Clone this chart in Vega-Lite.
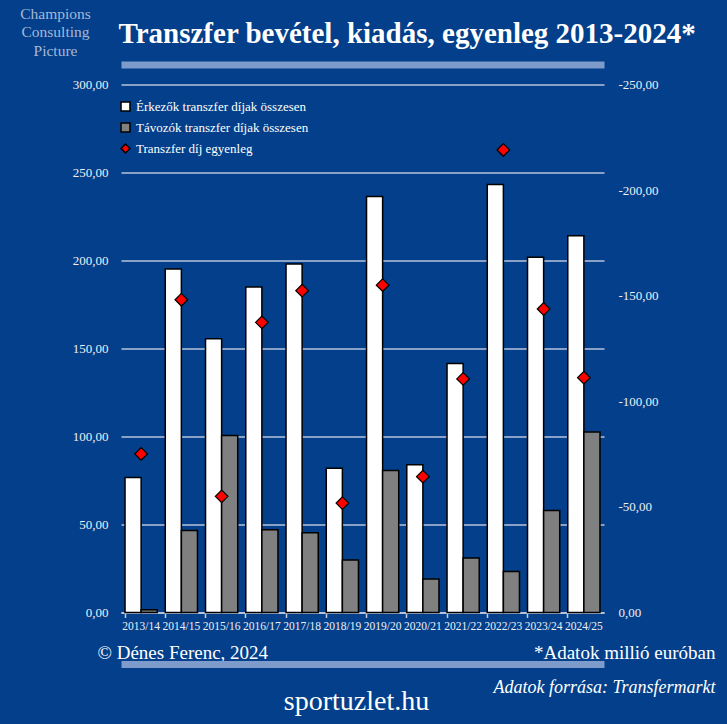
{
  "$schema": "https://vega.github.io/schema/vega-lite/v6.json",
  "width": 483,
  "height": 528,
  "autosize": {"type": "none"},
  "padding": {"left": 121, "top": 84.5, "right": 123, "bottom": 111.5},
  "background": "#033f8a",
  "config": {
    "view": {"stroke": null},
    "font": "Liberation Serif",
    "axis": {"labelFont": "Liberation Serif", "titleFont": "Liberation Serif"},
    "legend": {"labelFont": "Liberation Serif"}
  },
  "data": {
    "values": [
      {"season": "2013/14", "series": "Érkezők transzfer díjak összesen", "value": 76.7},
      {"season": "2014/15", "series": "Érkezők transzfer díjak összesen", "value": 195.1},
      {"season": "2015/16", "series": "Érkezők transzfer díjak összesen", "value": 155.5},
      {"season": "2016/17", "series": "Érkezők transzfer díjak összesen", "value": 184.9},
      {"season": "2017/18", "series": "Érkezők transzfer díjak összesen", "value": 198.0},
      {"season": "2018/19", "series": "Érkezők transzfer díjak összesen", "value": 82.0},
      {"season": "2019/20", "series": "Érkezők transzfer díjak összesen", "value": 236.4},
      {"season": "2020/21", "series": "Érkezők transzfer díjak összesen", "value": 83.9},
      {"season": "2021/22", "series": "Érkezők transzfer díjak összesen", "value": 141.5},
      {"season": "2022/23", "series": "Érkezők transzfer díjak összesen", "value": 243.2},
      {"season": "2023/24", "series": "Érkezők transzfer díjak összesen", "value": 201.9},
      {"season": "2024/25", "series": "Érkezők transzfer díjak összesen", "value": 214.0},
      {"season": "2013/14", "series": "Távozók transzfer díjak összesen", "value": 1.5},
      {"season": "2014/15", "series": "Távozók transzfer díjak összesen", "value": 46.6},
      {"season": "2015/16", "series": "Távozók transzfer díjak összesen", "value": 100.6},
      {"season": "2016/17", "series": "Távozók transzfer díjak összesen", "value": 47.0},
      {"season": "2017/18", "series": "Távozók transzfer díjak összesen", "value": 45.3},
      {"season": "2018/19", "series": "Távozók transzfer díjak összesen", "value": 29.9},
      {"season": "2019/20", "series": "Távozók transzfer díjak összesen", "value": 80.7},
      {"season": "2020/21", "series": "Távozók transzfer díjak összesen", "value": 19.0},
      {"season": "2021/22", "series": "Távozók transzfer díjak összesen", "value": 30.9},
      {"season": "2022/23", "series": "Távozók transzfer díjak összesen", "value": 23.3},
      {"season": "2023/24", "series": "Távozók transzfer díjak összesen", "value": 58.0},
      {"season": "2024/25", "series": "Távozók transzfer díjak összesen", "value": 102.5},
      {"season": "2013/14", "series": "Transzfer díj egyenleg", "value": -75.1},
      {"season": "2014/15", "series": "Transzfer díj egyenleg", "value": -148.1},
      {"season": "2015/16", "series": "Transzfer díj egyenleg", "value": -55.0},
      {"season": "2016/17", "series": "Transzfer díj egyenleg", "value": -137.4},
      {"season": "2017/18", "series": "Transzfer díj egyenleg", "value": -152.4},
      {"season": "2018/19", "series": "Transzfer díj egyenleg", "value": -51.8},
      {"season": "2019/20", "series": "Transzfer díj egyenleg", "value": -155.0},
      {"season": "2020/21", "series": "Transzfer díj egyenleg", "value": -64.3},
      {"season": "2021/22", "series": "Transzfer díj egyenleg", "value": -110.6},
      {"season": "2022/23", "series": "Transzfer díj egyenleg", "value": -219.0},
      {"season": "2023/24", "series": "Transzfer díj egyenleg", "value": -143.7},
      {"season": "2024/25", "series": "Transzfer díj egyenleg", "value": -111.2}
    ]
  },
  "title": {
    "text": "sportuzlet.hu",
    "orient": "bottom",
    "anchor": "middle",
    "frame": "group",
    "dx": -6,
    "dy": -10,
    "offset": 2,
    "font": "Liberation Serif",
    "fontSize": 28,
    "fontWeight": "normal",
    "color": "#ffffff"
  },
  "layer": [
    {
      "transform": [{"filter": "datum.series === 'Érkezők transzfer díjak összesen'"}],
      "mark": {"type": "bar", "stroke": "#000000", "strokeWidth": 1.5},
      "encoding": {
        "x": {
          "field": "season", "type": "nominal", "sort": null,
          "scale": {"paddingInner": 0.2, "paddingOuter": 0.1},
          "axis": {
            "orient": "bottom",
            "labelAngle": 0,
            "labelFontSize": 11.5,
            "labelColor": "#eef0f5",
            "labelPadding": 3,
            "labelOverlap": false,
            "domainColor": "#c4cde0",
            "domainWidth": 1.5,
            "ticks": true,
            "tickColor": "#c4cde0",
            "tickWidth": 1.5,
            "tickSize": 5,
            "bandPosition": 0,
            "grid": false,
            "title": "© Dénes Ferenc, 2024",
            "titleFontSize": 19,
            "titleFontWeight": "normal",
            "titleColor": "#ffffff",
            "titleAlign": "left",
            "titleAnchor": "start",
            "titleBaseline": "alphabetic",
            "titleX": -24,
            "titleY": 45.5
          }
        },
        "xOffset": {
          "field": "series",
          "scale": {"domain": ["Érkezők transzfer díjak összesen", "Távozók transzfer díjak összesen"], "paddingInner": 0, "paddingOuter": 0}
        },
        "y": {
          "field": "value", "type": "quantitative",
          "scale": {"domain": [0, 300], "nice": false, "zero": true},
          "axis": {
            "orient": "left",
            "values": [0, 50, 100, 150, 200, 250, 300],
            "labelExpr": "replace(format(datum.value, '.2f'), '.', ',')",
            "labelFontSize": 13,
            "labelColor": "#eef0f5",
            "labelPadding": 13,
            "domain": false,
            "ticks": false,
            "grid": true,
            "gridColor": "#b9c4dc",
            "gridWidth": 1.5,
            "title": ["Champions", "Consulting", "Picture"],
            "titleFontSize": 15.5,
            "titleFontWeight": "normal",
            "titleColor": "#a6b8d6",
            "titleAngle": 0,
            "titleAlign": "center",
            "titleBaseline": "alphabetic",
            "titleLineHeight": 18.5,
            "titleX": -66,
            "titleY": -66.5
          }
        },
        "color": {
          "field": "series", "type": "nominal",
          "scale": {
            "domain": ["Érkezők transzfer díjak összesen", "Távozók transzfer díjak összesen", "Transzfer díj egyenleg"],
            "range": ["#ffffff", "#808080", "#ff0000"]
          },
          "legend": {
            "title": null,
            "orient": "none",
            "legendX": -2,
            "legendY": 15.5,
            "direction": "vertical",
            "labelFontSize": 13,
            "labelColor": "#ffffff",
            "labelLimit": 400,
            "labelOffset": 4,
            "rowPadding": 6,
            "symbolSize": 80,
            "symbolStrokeColor": "#000000",
            "symbolStrokeWidth": 1.5
          }
        }
      }
    },
    {
      "transform": [{"filter": "datum.series === 'Távozók transzfer díjak összesen'"}],
      "mark": {"type": "bar", "stroke": "#000000", "strokeWidth": 1.5},
      "encoding": {
        "x": {
          "field": "season", "type": "nominal", "sort": null,
          "axis": {
            "orient": "bottom",
            "offset": 51.5,
            "labels": false,
            "ticks": false,
            "grid": false,
            "domainColor": "#7d9ccb",
            "domainWidth": 7,
            "title": "Adatok forrása: Transfermarkt",
            "titleFontSize": 18,
            "titleFontStyle": "italic",
            "titleFontWeight": "normal",
            "titleColor": "#ffffff",
            "titleAlign": "right",
            "titleAnchor": "end",
            "titleBaseline": "alphabetic",
            "titleX": 594,
            "titleY": 28
          }
        },
        "xOffset": {"field": "series"},
        "y": {
          "field": "value", "type": "quantitative",
          "scale": {"domain": [0, 300], "nice": false, "zero": true},
          "axis": null
        },
        "color": {"field": "series", "type": "nominal"}
      }
    },
    {
      "transform": [{"filter": "datum.series === 'Transzfer díj egyenleg'"}],
      "mark": {"type": "point", "shape": "diamond", "filled": true, "size": 160, "stroke": "#000000", "strokeWidth": 1.2, "opacity": 1},
      "encoding": {
        "x": {
          "field": "season", "type": "nominal", "sort": null,
          "axis": {
            "orient": "top",
            "offset": 20,
            "labels": false,
            "ticks": false,
            "grid": false,
            "domainColor": "#7d9ccb",
            "domainWidth": 7,
            "title": "Transzfer bevétel, kiadás, egyenleg 2013-2024*",
            "titleFontSize": 29,
            "titleFontWeight": "bold",
            "titleColor": "#ffffff",
            "titleAlign": "left",
            "titleAnchor": "start",
            "titleBaseline": "alphabetic",
            "titleX": -3,
            "titleY": -22.5
          }
        },
        "y": {
          "field": "value", "type": "quantitative",
          "scale": {"domain": [-250, 0], "nice": false, "zero": false, "reverse": true},
          "axis": {
            "orient": "right",
            "values": [-250, -200, -150, -100, -50, 0],
            "labelExpr": "replace(replace(format(datum.value, '.2f'), '.', ','), '\u2212', '-')",
            "labelFontSize": 13,
            "labelColor": "#eef0f5",
            "labelPadding": 14,
            "domain": false,
            "ticks": false,
            "grid": false,
            "title": "*Adatok millió euróban",
            "titleFontSize": 19,
            "titleFontWeight": "normal",
            "titleColor": "#ffffff",
            "titleAngle": 0,
            "titleAlign": "right",
            "titleBaseline": "alphabetic",
            "titleX": 111,
            "titleY": 573.5
          }
        },
        "color": {"field": "series", "type": "nominal"},
        "shape": {
          "field": "series", "type": "nominal",
          "scale": {
            "domain": ["Érkezők transzfer díjak összesen", "Távozók transzfer díjak összesen", "Transzfer díj egyenleg"],
            "range": ["square", "square", "diamond"]
          },
          "legend": {
            "title": null,
            "orient": "none",
            "legendX": -2,
            "legendY": 15.5,
            "direction": "vertical",
            "labelFontSize": 13,
            "labelColor": "#ffffff",
            "labelLimit": 400,
            "labelOffset": 4,
            "rowPadding": 6,
            "symbolSize": 80,
            "symbolStrokeColor": "#000000",
            "symbolStrokeWidth": 1.5
          }
        }
      }
    }
  ],
  "resolve": {
    "scale": {"y": "independent"},
    "axis": {"x": "independent", "y": "independent"}
  }
}
